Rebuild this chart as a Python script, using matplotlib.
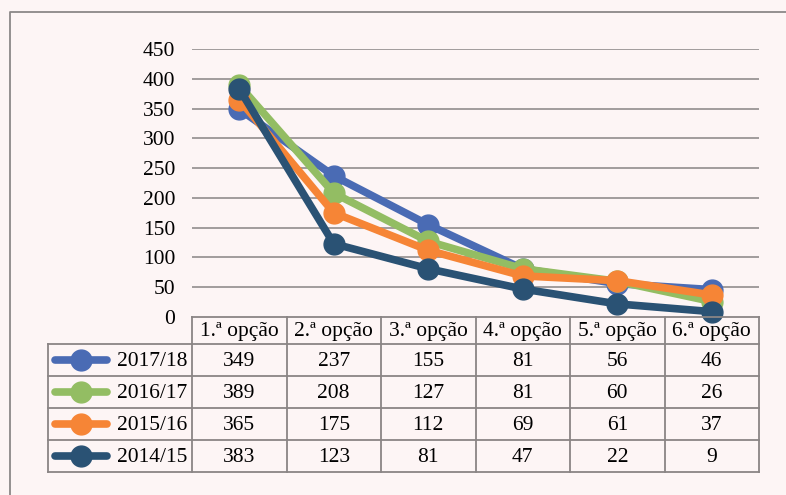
import matplotlib
matplotlib.use('Agg')
import matplotlib.pyplot as plt
from matplotlib.lines import Line2D

plt.rcParams['font.family'] = ['Liberation Serif', 'DejaVu Serif']

categories = ['1.ª opção', '2.ª opção', '3.ª opção', '4.ª opção', '5.ª opção', '6.ª opção']
years = ['2017/18', '2016/17', '2015/16', '2014/15']
v_2017_18 = [349, 237, 155, 81, 56, 46]
v_2016_17 = [389, 208, 127, 81, 60, 26]
v_2015_16 = [365, 175, 112, 69, 61, 37]
v_2014_15 = [383, 123, 81, 47, 22, 9]
series = [v_2017_18, v_2016_17, v_2015_16, v_2014_15]
colors = ['#4A6BB4', '#93BD63', '#F68536', '#2A5274']
yticks = list(range(0, 451, 50))

bg = '#FDF5F5'
grid_c = '#9A9595'
tbl_c = '#8A8585'
fs = 15.5

W, H = 786, 495
fig = plt.figure(figsize=(W / 100, H / 100), dpi=100, facecolor=bg)


def fx(px):
    return px / W


def fy(py):
    return 1 - py / H


# outer frame (only left and top edges visible)
fig.add_artist(Line2D([fx(10), fx(10), 1], [0, fy(12), fy(12)],
                      transform=fig.transFigure, color='#8C8888', lw=1.3))

# main plot area
ax = fig.add_axes([fx(192), fy(317), fx(759 - 192), (317 - 49) / H])
ax.set_facecolor('none')
x = list(range(len(categories)))
for vals, c in zip(series, colors):
    ax.plot(x, vals, color=c, lw=5.5, marker='o', ms=15,
            solid_joinstyle='round', solid_capstyle='round', clip_on=False)
ax.set_xlim(-0.5, len(categories) - 0.5)
ax.set_ylim(0, 450)
ax.set_yticks(yticks)
ax.set_yticklabels([str(t) for t in yticks], fontsize=fs)
ax.tick_params(axis='y', length=0, pad=12)
ax.set_xticks([])
for t in yticks[1:]:
    ax.axhline(t, color=grid_c, lw=1.3, zorder=0)
for sp in ax.spines.values():
    sp.set_visible(False)

# data table below the plot
header_h = 27
row_h = 32
total_h = header_h + row_h * len(years)
col_w_px = (759 - 192) / len(categories)
leg_left = -0.5 - 144 / col_w_px

tax = fig.add_axes([fx(192), fy(317 + total_h), fx(759 - 192), total_h / H])
tax.set_xlim(-0.5, len(categories) - 0.5)
tax.set_ylim(total_h, 0)
tax.axis('off')

kw = dict(color=tbl_c, lw=1.3, clip_on=False, solid_capstyle='projecting')
tax.plot([-0.5, len(categories) - 0.5], [0, 0], **kw)
for r in range(len(years) + 1):
    yy = header_h + r * row_h
    tax.plot([leg_left, len(categories) - 0.5], [yy, yy], **kw)
for k in range(len(categories) + 1):
    tax.plot([k - 0.5, k - 0.5], [0, total_h], **kw)
tax.plot([leg_left, leg_left], [header_h, total_h], **kw)

for i, cat in enumerate(categories):
    tax.text(i, header_h / 2 + 1, cat, ha='center', va='center', fontsize=fs)

key_x0 = leg_left + 7 / col_w_px
key_x1 = leg_left + 59 / col_w_px
for r, (yr, vals, c) in enumerate(zip(years, series, colors)):
    yc = header_h + r * row_h + row_h / 2
    tax.plot([key_x0, key_x1], [yc, yc], color=c, lw=5.5, solid_capstyle='round', clip_on=False)
    tax.plot([(key_x0 + key_x1) / 2], [yc], marker='o', ms=15, color=c, clip_on=False)
    tax.text(-0.5 - 5 / col_w_px, yc + 1, yr, ha='right', va='center', fontsize=fs)
    for i, v in enumerate(vals):
        tax.text(i, yc + 1, str(v), ha='center', va='center', fontsize=fs)

fig.savefig('out.png', dpi=100, facecolor=bg)
